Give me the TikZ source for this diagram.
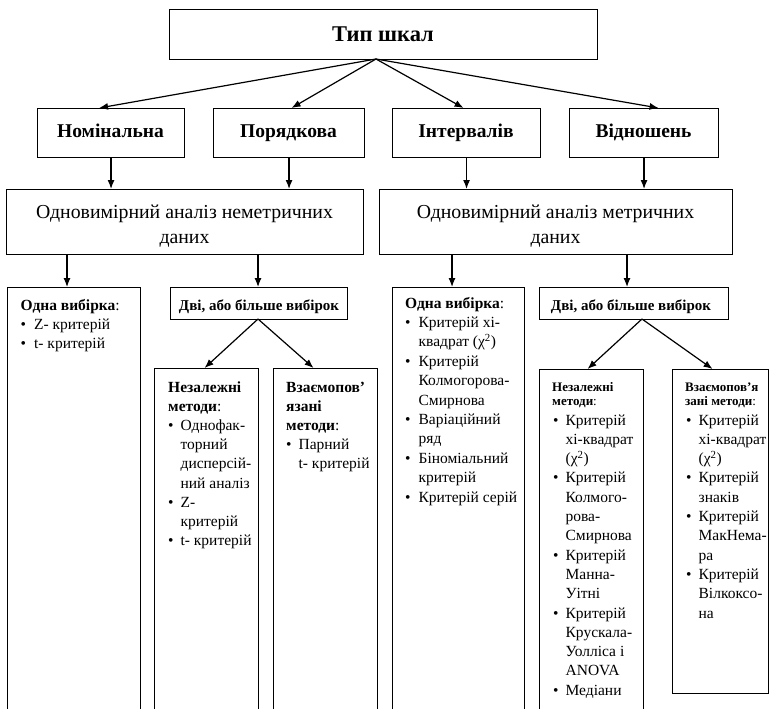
\documentclass[tikz,border=0pt]{standalone}
\usepackage{fontspec}
\setmainfont{Liberation Serif}
\usetikzlibrary{arrows.meta}
\tikzset{
  boxshape/.style={draw, line width=1.1pt, inner sep=0pt, anchor=north west},
  txt/.style={inner sep=0pt, anchor=base},
  txtw/.style={inner sep=0pt, anchor=base west},
  arr/.style={line width=1.2pt, -{Latex[length=9pt,width=7pt]}},
}
\newcommand\bx[5]{\node[boxshape, minimum width=#4-#2, minimum height=#5-#3] (#1) at (#2,#3) {};}
\newcommand\bul{\textbullet}
\begin{document}
\begin{tikzpicture}[x=1pt,y=-1pt]
\useasboundingbox (0,0) rectangle (771,709);
\clip (0,0) rectangle (771,709);
% top
\bx{top}{169}{9}{597}{59}
\node[txt, font=\fontsize{22.5}{26}\selectfont\bfseries] (ttop) at (383,42) {Тип шкал};
\coordinate (apex) at (376,59);
% row 2
\bx{nom}{37}{108}{184}{157}
\bx{por}{213}{108}{364}{157}
\bx{int}{392}{108}{540}{157}
\bx{vid}{569}{108}{718}{157}
\begin{scope}[every node/.style={txt, font=\fontsize{19.5}{24}\selectfont\bfseries}]
\node (tnom) at (110.5,137) {Номінальна};
\node (tpor) at (288.5,137) {Порядкова};
\node (tint) at (466,137) {Інтервалів};
\node (tvid) at (643.5,137) {Відношень};
\end{scope}
\draw[arr] (apex) -- ([xshift=-12pt]nom.north);
\draw[arr] (apex) -- ([xshift=2.5pt]por.north);
\draw[arr] (apex) -- ([xshift=-3pt]int.north);
\draw[arr] (apex) -- ([xshift=14.5pt]vid.north);
% row 3
\bx{nmet}{6}{189}{363}{254}
\bx{met}{379}{189}{732}{254}
\begin{scope}[every node/.style={txt, font=\fontsize{19.8}{25}\selectfont}]
\node (tnmet) at (184.5,218) {\begin{tabular}[t]{@{}c@{}}Одновимірний аналіз неметричних\\даних\end{tabular}};
\node (tmet) at (555.5,218) {\begin{tabular}[t]{@{}c@{}}Одновимірний аналіз метричних\\даних\end{tabular}};
\end{scope}
\draw[arr] (nom.south) -- (nom.south |- nmet.north);
\draw[arr] (por.south) -- (por.south |- nmet.north);
\draw[arr] (int.south) -- (int.south |- met.north);
\draw[arr] (vid.south) -- (vid.south |- met.north);
% row 4
\bx{lone}{7}{287}{140}{720}
\bx{ltwo}{170}{287}{347}{319}
\bx{rone}{392}{287}{524}{720}
\bx{rtwo}{539}{287}{728}{319}
\coordinate (la) at (67,254);
\coordinate (lb) at (258,254);
\coordinate (ra) at (452,254);
\coordinate (rb) at (627,254);
\draw[arr] (la) -- (la |- lone.north);
\draw[arr] (lb) -- (lb |- ltwo.north);
\draw[arr] (ra) -- (ra |- rone.north);
\draw[arr] (rb) -- (rb |- rtwo.north);
\node[txt, font=\fontsize{15}{18}\selectfont\bfseries] (tltwo) at (259,310) {Дві, або більше вибірок};
\node[txt, font=\fontsize{15}{18}\selectfont\bfseries] (trtwo) at (631,310) {Дві, або більше вибірок};
% left single sample
\node[txtw, font=\fontsize{15.5}{19.2}\selectfont] (tlone) at (20.5,310) {\begin{tabular}[t]{@{}l@{\hspace{8pt}}l@{}}
\multicolumn{2}{@{}l@{}}{\textbf{Одна вибірка}:}\\
\bul & Z- критерій\\
\bul & t- критерій
\end{tabular}};
% right single sample
\node[txtw, font=\fontsize{15.5}{19.4}\selectfont] (trone) at (405,308) {\begin{tabular}[t]{@{}l@{\hspace{8pt}}l@{}}
\multicolumn{2}{@{}l@{}}{\textbf{Одна вибірка}:}\\
\bul & Критерій хі-\\
 & квадрат (χ\textsuperscript{2})\\
\bul & Критерій\\
 & Колмогорова-\\
 & Смирнова\\
\bul & Варіаційний\\
 & ряд\\
\bul & Біноміальний\\
 & критерій\\
\bul & Критерій серій
\end{tabular}};
% row 5 left
\bx{lind}{154}{368}{258}{720}
\bx{ldep}{273}{368}{377}{720}
\coordinate (lapex) at (258,319);
\draw[arr] (lapex) -- ([xshift=-2pt]lind.north);
\draw[arr] (lapex) -- ([xshift=-12pt]ldep.north);
\node[txtw, font=\fontsize{15.5}{19.2}\selectfont] (tlind) at (168,392) {\begin{tabular}[t]{@{}l@{\hspace{7pt}}l@{}}
\multicolumn{2}{@{}l@{}}{\textbf{Незалежні}}\\
\multicolumn{2}{@{}l@{}}{\textbf{методи}:}\\
\bul & Однофак-\\
 & торний\\
 & дисперсій-\\
 & ний аналіз\\
\bul & Z-\\
 & критерій\\
\bul & t- критерій
\end{tabular}};
\node[txtw, font=\fontsize{15.5}{19.2}\selectfont] (tldep) at (286,392) {\begin{tabular}[t]{@{}l@{\hspace{7pt}}l@{}}
\multicolumn{2}{@{}l@{}}{\textbf{Взаємопов’}}\\
\multicolumn{2}{@{}l@{}}{\textbf{язані}}\\
\multicolumn{2}{@{}l@{}}{\textbf{методи}:}\\
\bul & Парний\\
 & t- критерій
\end{tabular}};
% row 5 right
\bx{rind}{539}{369}{643}{720}
\bx{rdep}{672}{369}{768}{693}
\coordinate (rapex) at (642,319);
\draw[arr] (rapex) -- ([xshift=-4pt]rind.north);
\draw[arr] (rapex) -- ([xshift=-8pt]rdep.north);
\node[txtw, font=\fontsize{13}{14}\selectfont] (hrind) at (552,391) {\begin{tabular}[t]{@{}l@{}}
\textbf{Незалежні}\\
\textbf{методи}:
\end{tabular}};
\node[txtw, font=\fontsize{13}{14}\selectfont] (hrdep) at (685,391) {\begin{tabular}[t]{@{}l@{}}
\textbf{Взаємопов’я}\\
\textbf{зані методи}:
\end{tabular}};
\node[txtw, font=\fontsize{15.5}{19.3}\selectfont] (trind) at (553,425) {\begin{tabular}[t]{@{}l@{\hspace{7pt}}l@{}}
\bul & Критерій\\
 & хі-квадрат\\
 & (χ\textsuperscript{2})\\
\bul & Критерій\\
 & Колмого-\\
 & рова-\\
 & Смирнова\\
\bul & Критерій\\
 & Манна-\\
 & Уітні\\
\bul & Критерій\\
 & Крускала-\\
 & Уолліса і\\
 & ANOVA\\
\bul & Медіани
\end{tabular}};
\node[txtw, font=\fontsize{15.5}{19.3}\selectfont] (trdep) at (686,425) {\begin{tabular}[t]{@{}l@{\hspace{7pt}}l@{}}
\bul & Критерій\\
 & хі-квадрат\\
 & (χ\textsuperscript{2})\\
\bul & Критерій\\
 & знаків\\
\bul & Критерій\\
 & МакНема-\\
 & ра\\
\bul & Критерій\\
 & Вілкоксо-\\
 & на
\end{tabular}};
\end{tikzpicture}
\end{document}
